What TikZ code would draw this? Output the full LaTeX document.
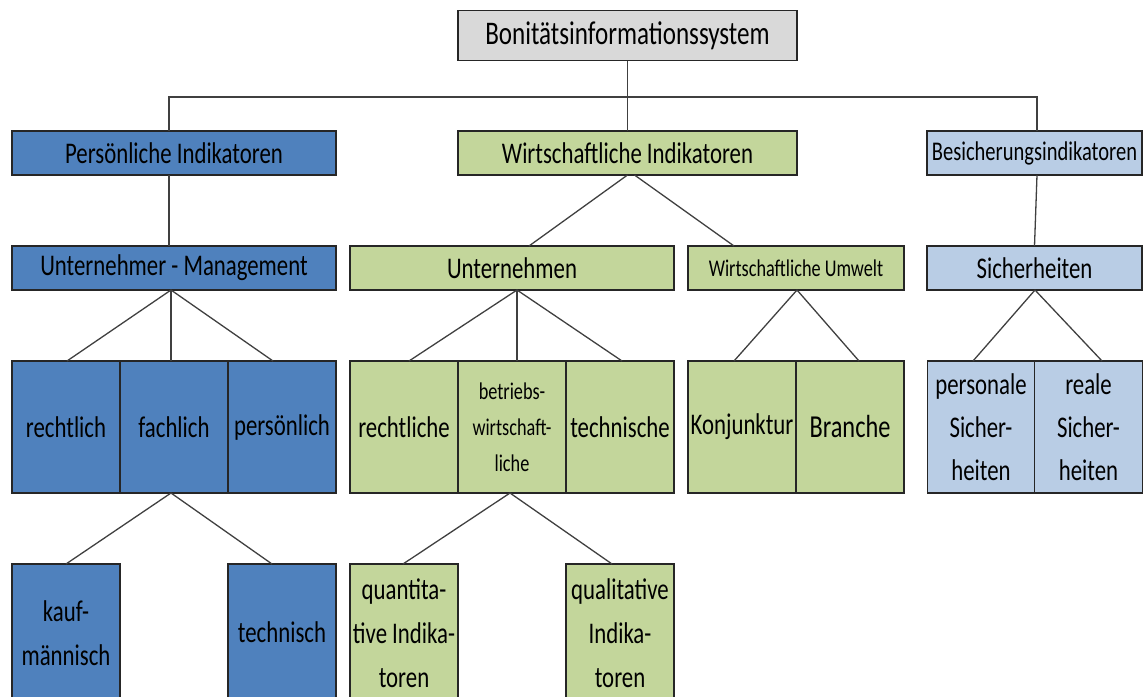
\documentclass[tikz,border=0pt]{standalone}
\usepackage{fontspec}
\setmainfont{Carlito}[FakeStretch=0.76]
\definecolor{bluedark}{HTML}{4F81BD}
\definecolor{greenlt}{HTML}{C3D69B}
\definecolor{bluelt}{HTML}{B9CDE5}
\definecolor{greylt}{HTML}{D9D9D9}
\newcommand{\fs}[2]{\fontsize{#1}{#2}\selectfont}
\begin{document}
\begin{tikzpicture}[x=1pt,y=-1pt,
  box/.style={draw=black!85,line width=1.3pt,inner sep=0pt,outer sep=0pt,
    align=center,text=black},
  wide/.style={box,minimum width=324,minimum height=44,font=\fs{30}{36}},
  cell/.style={box,minimum width=108,minimum height=132,font=\fs{30}{43}},
  leaf/.style={box,minimum width=108,minimum height=156},
  leaftext/.style={inner sep=0pt,align=center,text=black,font=\fs{30}{44}},
  conn/.style={draw=black!75,line width=1.3pt}]
\useasboundingbox (0,0) rectangle (1143,696);
\clip (0,0) rectangle (1143,696);

% root
\node[box,fill=greylt,minimum width=339,minimum height=50,font=\fs{33}{40}]
  (root) at (627.5,35.5) {Bonitätsinformationssystem};

% first level
\node[wide,fill=bluedark] (pers) at (174,153) {Persönliche Indikatoren};
\node[wide,fill=greenlt,minimum width=339] (wirt) at (627.5,153) {Wirtschaftliche Indikatoren};
\node[box,fill=bluelt,minimum width=215,minimum height=44,font=\fs{27}{32}]
  (besi) at (1034.5,153) {Besicherungsindikatoren};

% second level
\node[wide,fill=bluedark] (um) at (174,268) {Unternehmer - Management};
\node[wide,fill=greenlt] (unt) at (512,268) {Unternehmen};
\node[box,fill=greenlt,minimum width=216,minimum height=44,font=\fs{24}{30}]
  (umw) at (796,268) {Wirtschaftliche Umwelt};
\node[box,fill=bluelt,minimum width=215,minimum height=44,font=\fs{30}{36}]
  (sich) at (1034.5,268) {Sicherheiten};

% third level
\node[cell,fill=bluedark] (rl) at (66,427) {rechtlich};
\node[cell,fill=bluedark] (fa) at (174,427) {fachlich};
\node[cell,fill=bluedark] (ps) at (282,427) {persönlich};

\node[cell,fill=greenlt] (rle) at (404,427) {rechtliche};
\node[cell,fill=greenlt,font=\fs{24}{36}] (bw) at (512,427) {betriebs-\\wirtschaft-\\liche};
\node[cell,fill=greenlt] (te) at (620,427) {technische};

\node[cell,fill=greenlt] (kon) at (742,427) {Konjunktur};
\node[cell,fill=greenlt,font=\fs{32}{43}] (bra) at (850,427) {Branche};

\node[cell,fill=bluelt,minimum width=107.5] (pers2) at (981,427) {personale\\Sicher-\\heiten};
\node[cell,fill=bluelt,minimum width=107.5] (real) at (1088.5,427) {reale\\Sicher-\\heiten};

% fourth level: boxes run past the lower edge, labels placed on their own
\node[leaf,fill=bluedark] (kauf) at (66,642) {};
\node[leaf,fill=bluedark] (tech) at (282,642) {};
\node[leaf,fill=greenlt] (quan) at (404,642) {};
\node[leaf,fill=greenlt] (qual) at (620,642) {};
\node[leaftext] (kaufT) at (66,633) {kauf-\\männisch};
\node[leaftext] (techT) at (282,632) {technisch};
\node[leaftext] (quanT) at (404,633) {quantita-\\tive Indika-\\toren};
\node[leaftext] (qualT) at (620,633) {qualitative\\Indika-\\toren};

% connectors
\coordinate (bus) at (627.5,97);
\draw[conn] ([xshift=-5pt]pers.north) |- (bus) -| ([xshift=2.5pt]besi.north);
\draw[conn] (root.south) -- (wirt.north);
\draw[conn] ([xshift=-5pt]pers.south) -- ([xshift=-5pt]um.north);
\draw[conn] ([xshift=2.5pt]besi.south) -- (sich.north);

\draw[conn] (wirt.south) -- ([xshift=17pt]unt.north);
\draw[conn] ([xshift=7pt]wirt.south) -- ([xshift=-62pt]umw.north);

\draw[conn] ([xshift=-3pt]um.south) -- ([xshift=1pt]rl.north);
\draw[conn] ([xshift=-3pt]um.south) -- ([xshift=-3pt]fa.north);
\draw[conn] ([xshift=-3pt]um.south) -- ([xshift=-9pt]ps.north);

\draw[conn] ([xshift=5pt]unt.south) -- ([xshift=5pt]rle.north);
\draw[conn] ([xshift=5pt]unt.south) -- ([xshift=5pt]bw.north);
\draw[conn] ([xshift=5pt]unt.south) -- ([xshift=2pt]te.north);

\draw[conn] ([xshift=1pt]umw.south) -- ([xshift=-8pt]kon.north);
\draw[conn] ([xshift=1pt]umw.south) -- ([xshift=9pt]bra.north);

\draw[conn] ([xshift=0.5pt]sich.south) -- ([xshift=-8pt]pers2.north);
\draw[conn] ([xshift=0.5pt]sich.south) -- ([xshift=13.5pt]real.north);

\draw[conn] ([xshift=-3pt]fa.south) -- (kauf.north);
\draw[conn] ([xshift=-3pt]fa.south) -- ([xshift=-10pt]tech.north);

\draw[conn] ([xshift=-2pt]bw.south) -- ([xshift=-1pt]quan.north);
\draw[conn] ([xshift=-2pt]bw.south) -- ([xshift=-8pt]qual.north);
\end{tikzpicture}
\end{document}
